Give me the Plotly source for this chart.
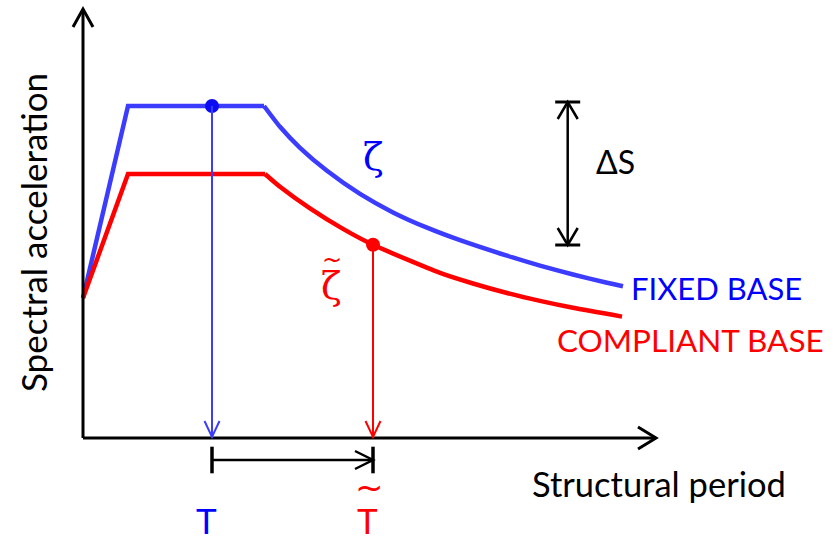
import plotly.graph_objects as go

# Design spectra (schematic): structural period vs spectral acceleration
fixed_period = [0.0, 0.45, 1.81, 1.97, 2.17, 2.44, 2.77, 3.10, 3.44, 3.77, 4.24, 4.57, 4.90, 5.24, 5.40]
fixed_accel = [1.40, 3.32, 3.32, 3.112, 2.902, 2.672, 2.441, 2.256, 2.103, 1.978, 1.823, 1.724, 1.635, 1.553, 1.518]

compliant_period = [0.0, 0.45, 1.82, 1.97, 2.27, 2.60, 2.90, 3.57, 3.90, 4.24, 4.57, 4.90, 5.39]
compliant_accel = [1.40, 2.64, 2.64, 2.512, 2.296, 2.091, 1.932, 1.651, 1.545, 1.450, 1.371, 1.302, 1.214]

# Fundamental periods and the spectral ordinates read at them
T_fixed, Sa_fixed = 1.29, 3.32
T_compliant, Sa_compliant = 2.90, 1.932

# Extent of the drawn axes and of the ΔS marker
x_axis_end = 5.73
y_axis_end = 4.29
dS_top, dS_bottom = 3.36, 1.93

W, H = 833, 537
X0_PX, Y0_PX = 83, 438          # origin of the axes in the page
PX = 0.01                       # data units per pixel (100 px per unit)

BLUE_LINE = "#3c3cff"
BLUE_DOT = "#0c0cf2"
BLUE_TEXT = "#0000ff"
RED = "#ff0000"
BLACK = "#000000"

fig = go.Figure()

PLATEAU = 3  # ramp + plateau points, drawn straight; descending branch smoothed


def spectrum(px, py, color, name):
    fig.add_trace(go.Scatter(x=px[:PLATEAU], y=py[:PLATEAU], mode="lines",
                             line=dict(color=color, width=4.5), name=name,
                             showlegend=False, hoverinfo="skip"))
    fig.add_trace(go.Scatter(x=px[PLATEAU - 1:], y=py[PLATEAU - 1:], mode="lines",
                             line=dict(color=color, width=4.5, shape="spline", smoothing=0.6),
                             name=name, showlegend=False, hoverinfo="skip"))


spectrum(fixed_period, fixed_accel, BLUE_LINE, "Fixed base")
spectrum(compliant_period, compliant_accel, RED, "Compliant base")

shapes = []


def seg(x0, y0, x1, y1, color, width):
    shapes.append(dict(type="line", xref="x", yref="y", x0=x0, y0=y0, x1=x1, y1=y1,
                       line=dict(color=color, width=width), layer="above"))


def vhead(tx, ty, direction, length, half, color, width):
    """Open V-shaped arrowhead with its tip at (tx, ty)."""
    L, Hw = length * PX, half * PX
    if direction == "up":
        pts = [(tx - Hw, ty - L), (tx, ty), (tx + Hw, ty - L)]
    elif direction == "down":
        pts = [(tx - Hw, ty + L), (tx, ty), (tx + Hw, ty + L)]
    else:  # right
        pts = [(tx - L, ty + Hw), (tx, ty), (tx - L, ty - Hw)]
    path = "M {} {} L {} {} L {} {}".format(*[v for p in pts for v in p])
    shapes.append(dict(type="path", xref="x", yref="y", path=path,
                       line=dict(color=color, width=width), layer="above"))


# Axes with arrowheads
seg(0, 0, x_axis_end, 0, BLACK, 3)
vhead(x_axis_end, 0, "right", 18, 11, BLACK, 3)
seg(0, 0, 0, y_axis_end, BLACK, 3)
vhead(0, y_axis_end, "up", 18, 10, BLACK, 3)

# Drop lines from the spectral ordinates to the period axis
seg(T_fixed, Sa_fixed, T_fixed, 0, BLUE_LINE, 2)
vhead(T_fixed, 0.01, "down", 16, 7.5, BLUE_LINE, 2)
seg(T_compliant, Sa_compliant, T_compliant, 0, RED, 2)
vhead(T_compliant, 0.01, "down", 16, 7.5, RED, 2)

# Period lengthening bracket
br_top, br_bot, br_mid = -0.087, -0.353, -0.22
seg(T_fixed, br_top, T_fixed, br_bot, BLACK, 3.5)
seg(T_compliant, br_top, T_compliant, br_bot, BLACK, 3.5)
seg(T_fixed, br_mid, T_compliant, br_mid, BLACK, 2.5)
vhead(T_compliant, br_mid, "right", 18, 9, BLACK, 2.5)

# ΔS double arrow with end bars
xs = 4.847
seg(xs, dS_top, xs, dS_bottom, BLACK, 2.5)
seg(xs - 12.5 * PX, dS_top, xs + 12.5 * PX, dS_top, BLACK, 3)
seg(xs - 12.5 * PX, dS_bottom, xs + 12.5 * PX, dS_bottom, BLACK, 3)
vhead(xs, dS_top, "up", 17, 10, BLACK, 2.5)
vhead(xs, dS_bottom, "down", 17, 10, BLACK, 2.5)

# Points at the fundamental periods
fig.add_trace(go.Scatter(x=[T_fixed], y=[Sa_fixed], mode="markers",
                         marker=dict(color=BLUE_DOT, size=14), showlegend=False, hoverinfo="skip"))
fig.add_trace(go.Scatter(x=[T_compliant], y=[Sa_compliant], mode="markers",
                         marker=dict(color=RED, size=14), showlegend=False, hoverinfo="skip"))

FONT = "Lato, Open Sans, sans-serif"
SERIF = "DejaVu Serif, serif"
TILDE = "DejaVu Sans, sans-serif"


def label(x, y, text, size, color, family=FONT, xanchor="center", angle=0):
    fig.add_annotation(x=x, y=y, xref="x", yref="y", text=text, showarrow=False,
                       xanchor=xanchor, yanchor="middle", textangle=angle,
                       font=dict(family=family, size=size, color=color))


label(-0.50, 2.05, "Spectral acceleration", 35, BLACK, angle=-90)
label(5.757, -0.453, "Structural period", 34.5, BLACK)
label(5.455, 1.50, "FIXED BASE", 31, BLUE_TEXT, xanchor="left")
label(4.715, 0.98, "COMPLIANT BASE", 31.5, RED, xanchor="left")
label(5.327, 2.77, "ΔS", 32, BLACK)
label(2.90, 2.81, "ζ", 38, BLUE_TEXT, family=SERIF)
label(2.487, 1.52, "ζ", 38, RED, family=SERIF)
label(2.49, 1.78, "~", 24, RED, family=TILDE)
label(1.237, -0.815, "T", 35, BLUE_TEXT)
label(2.843, -0.815, "T", 35, RED)
label(2.86, -0.487, "~", 34, RED, family=TILDE)

fig.update_layout(
    width=W, height=H, autosize=False,
    margin=dict(l=0, r=0, t=0, b=0),
    paper_bgcolor="white", plot_bgcolor="white",
    shapes=shapes,
    xaxis=dict(range=[-X0_PX * PX, (W - X0_PX) * PX], visible=False, fixedrange=True),
    yaxis=dict(range=[(Y0_PX - H) * PX, Y0_PX * PX], visible=False, fixedrange=True),
)

fig.write_html("out.html")
